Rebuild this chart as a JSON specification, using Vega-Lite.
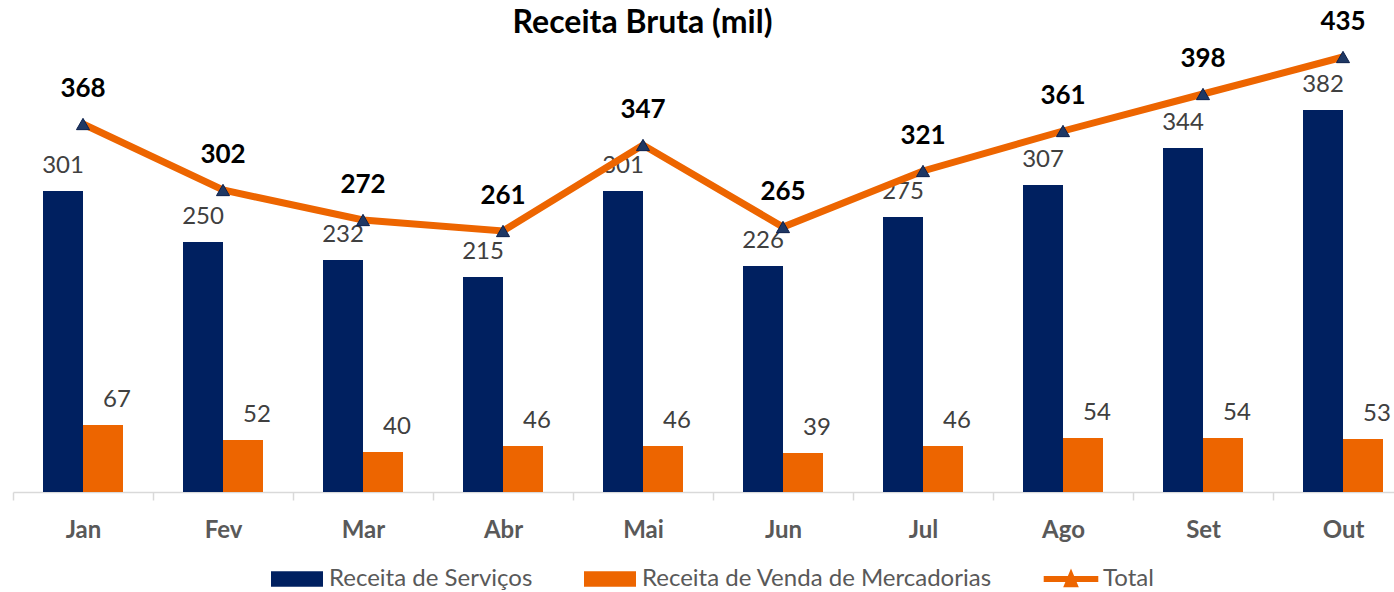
{
  "$schema": "https://vega.github.io/schema/vega-lite/v6.json",
  "width": 1381,
  "height": 447,
  "autosize": "none",
  "padding": {"left": 13, "top": 45, "right": 0, "bottom": 100},
  "background": "white",
  "config": {"view": {"stroke": null}, "font": "Lato"},
  "title": {"text": "Receita Bruta (mil)", "fontSize": 32, "fontWeight": "bold", "color": "#000000", "anchor": "middle", "dx": -61, "offset": -56, "frame": "group", "baseline": "alphabetic", "font": "Lato"},
  "datasets": {
    "bars": [
      {"mes": "Jan", "serie": "Receita de Serviços", "valor": 301},
      {"mes": "Jan", "serie": "Receita de Venda de Mercadorias", "valor": 67},
      {"mes": "Fev", "serie": "Receita de Serviços", "valor": 250},
      {"mes": "Fev", "serie": "Receita de Venda de Mercadorias", "valor": 52},
      {"mes": "Mar", "serie": "Receita de Serviços", "valor": 232},
      {"mes": "Mar", "serie": "Receita de Venda de Mercadorias", "valor": 40},
      {"mes": "Abr", "serie": "Receita de Serviços", "valor": 215},
      {"mes": "Abr", "serie": "Receita de Venda de Mercadorias", "valor": 46},
      {"mes": "Mai", "serie": "Receita de Serviços", "valor": 301},
      {"mes": "Mai", "serie": "Receita de Venda de Mercadorias", "valor": 46},
      {"mes": "Jun", "serie": "Receita de Serviços", "valor": 226},
      {"mes": "Jun", "serie": "Receita de Venda de Mercadorias", "valor": 39},
      {"mes": "Jul", "serie": "Receita de Serviços", "valor": 275},
      {"mes": "Jul", "serie": "Receita de Venda de Mercadorias", "valor": 46},
      {"mes": "Ago", "serie": "Receita de Serviços", "valor": 307},
      {"mes": "Ago", "serie": "Receita de Venda de Mercadorias", "valor": 54},
      {"mes": "Set", "serie": "Receita de Serviços", "valor": 344},
      {"mes": "Set", "serie": "Receita de Venda de Mercadorias", "valor": 54},
      {"mes": "Out", "serie": "Receita de Serviços", "valor": 382},
      {"mes": "Out", "serie": "Receita de Venda de Mercadorias", "valor": 53}
    ],
    "totais": [
      {"mes": "Jan", "serie": "Total", "valor": 368},
      {"mes": "Fev", "serie": "Total", "valor": 302},
      {"mes": "Mar", "serie": "Total", "valor": 272},
      {"mes": "Abr", "serie": "Total", "valor": 261},
      {"mes": "Mai", "serie": "Total", "valor": 347},
      {"mes": "Jun", "serie": "Total", "valor": 265},
      {"mes": "Jul", "serie": "Total", "valor": 321},
      {"mes": "Ago", "serie": "Total", "valor": 361},
      {"mes": "Set", "serie": "Total", "valor": 398},
      {"mes": "Out", "serie": "Total", "valor": 435}
    ]
  },
  "encoding": {
    "x": {
      "field": "mes", "type": "nominal",
      "sort": ["Jan", "Fev", "Mar", "Abr", "Mai", "Jun", "Jul", "Ago", "Set", "Out"],
      "scale": {"paddingInner": 0, "paddingOuter": 0, "range": [0, 1400]},
      "axis": {
        "title": null, "labelAngle": 0, "labelFontSize": 24, "labelFontWeight": "bold", "labelColor": "#595959",
        "labelPadding": 18, "domainColor": "#D9D9D9", "domainWidth": 1.5, "tickColor": "#D9D9D9", "tickWidth": 1.5,
        "tickSize": 8, "tickBand": "extent", "grid": false
      }
    },
    "y": {
      "field": "valor", "type": "quantitative",
      "scale": {"domain": [0, 447], "nice": false, "zero": true},
      "axis": null
    }
  },
  "layer": [
    {
      "data": {"name": "bars"},
      "mark": {"type": "bar"},
      "encoding": {
        "xOffset": {"field": "serie", "type": "nominal", "scale": {"paddingInner": 0, "paddingOuter": 0.75}},
        "color": {
          "field": "serie", "type": "nominal",
          "scale": {"domain": ["Receita de Serviços", "Receita de Venda de Mercadorias", "Total"], "range": ["#002060", "#ED6500", "#ED6500"]},
          "legend": {
            "orient": "none", "legendX": 258, "legendY": 508, "direction": "horizontal", "title": null,
            "labelFontSize": 24, "labelColor": "#595959", "labelFont": "Lato",
            "symbolSize": 2704, "columnPadding": 51, "labelOffset": 6,
            "labelLimit": 600,
            "encode": {
              "symbols": {
                "update": {
                  "shape": {"signal": "datum.value === 'Total' ? 'M-1.05,-0.12H1.05V0.12H-1.05Z M-0.3,0.32L0,-0.4L0.3,0.32Z' : 'M-1,-0.3H1V0.3H-1Z'"},
                  "fill": {"signal": "datum.value === 'Receita de Serviços' ? '#002060' : (datum.value === 'Total' ? {gradient: 'linear', x1: 0, y1: 0, x2: 1, y2: 0, stops: [{offset: 0, color: '#ED6500'}, {offset: 0.37, color: '#ED6500'}, {offset: 0.37, color: '#1F3864'}, {offset: 0.63, color: '#1F3864'}, {offset: 0.63, color: '#ED6500'}, {offset: 1, color: '#ED6500'}]} : '#ED6500')"},
                  "strokeWidth": {"value": 0},
                  "opacity": {"value": 1}
                }
              }
            }
          }
        }
      }
    },
    {
      "data": {"name": "bars"},
      "transform": [{"filter": "datum.serie === 'Receita de Serviços'"}],
      "mark": {"type": "text", "fontSize": 24, "color": "#404040", "baseline": "alphabetic", "dy": -18},
      "encoding": {
        "xOffset": {"field": "serie", "type": "nominal"},
        "text": {"field": "valor", "type": "quantitative"}
      }
    },
    {
      "data": {"name": "bars"},
      "transform": [{"filter": "datum.serie === 'Receita de Venda de Mercadorias'"}],
      "mark": {"type": "text", "fontSize": 24, "color": "#404040", "baseline": "alphabetic", "dy": -18, "dx": 14},
      "encoding": {
        "xOffset": {"field": "serie", "type": "nominal"},
        "text": {"field": "valor", "type": "quantitative"}
      }
    },
    {
      "data": {"name": "totais"},
      "mark": {"type": "line", "strokeWidth": 7, "strokeCap": "butt"},
      "encoding": {
        "color": {"field": "serie", "type": "nominal"}
      }
    },
    {
      "data": {"name": "totais"},
      "mark": {"type": "point", "shape": "triangle-up", "filled": true, "fill": "#1F3864", "stroke": "#0B1F4B", "strokeWidth": 1, "size": 170, "opacity": 1}
    },
    {
      "data": {"name": "totais"},
      "mark": {"type": "text", "fontSize": 26, "fontWeight": "bold", "color": "#000000", "baseline": "alphabetic", "dy": -27},
      "encoding": {
        "text": {"field": "valor", "type": "quantitative"}
      }
    }
  ],
  "resolve": {"scale": {"xOffset": "shared"}}
}
